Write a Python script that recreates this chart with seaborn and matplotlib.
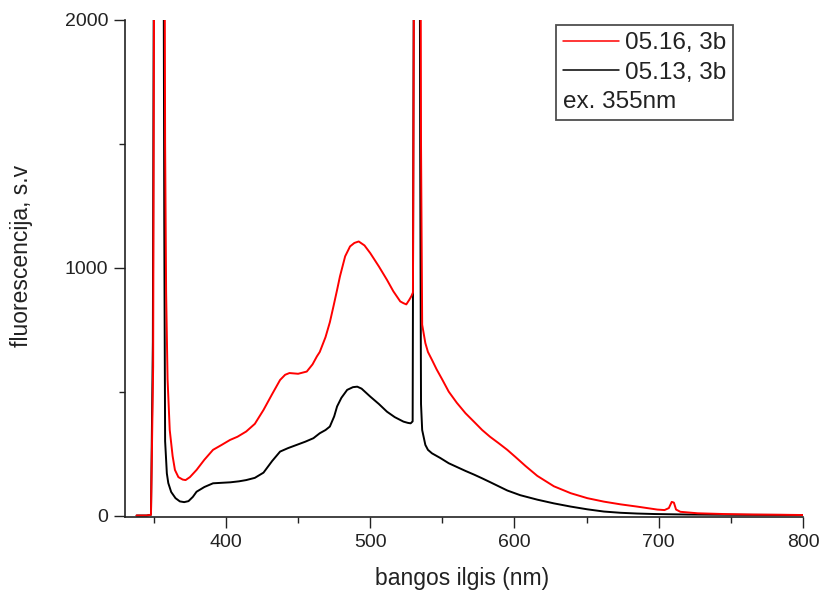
import numpy as np
import pandas as pd
import matplotlib
matplotlib.use("Agg")
import matplotlib.pyplot as plt
import seaborn as sns
from matplotlib.lines import Line2D
from matplotlib.ticker import MultipleLocator

# values
wl_red = [338, 345, 348, 349.5, 350.5, 352, 354, 356, 357.2, 357.8, 358.5, 359.5, 361, 363, 364.6,
          367, 370, 372, 375, 379.6, 385, 391, 397, 402.8, 408, 414, 420, 426, 432, 437.5, 441, 444,
          450, 456, 460, 463, 465, 469, 472, 474.5, 477, 479, 482.6, 486, 489, 492, 496, 500, 506,
          511.6, 516, 520.8, 523, 525, 527, 528.5, 529.6, 530.5, 532, 534, 535.2, 536, 538.2, 540,
          542.8, 546, 549.8, 554.4, 560, 566, 572, 577.6, 583, 589, 595, 600.7, 607.6, 615.8, 627.3,
          639, 650.5, 662, 673.6, 685, 692, 699, 704, 707, 709, 710.5, 712, 715, 727, 745, 765, 785, 800]
fl_red = [0, 0, 3, 600, 3000, 8000, 9000, 6000, 3000, 1500, 900, 550, 345, 240, 184,
          155, 145, 143, 155, 184, 225, 265, 285, 305, 318, 339, 370, 426, 490, 547, 568, 575,
          572, 581, 610, 642, 660, 720, 780, 844, 910, 965, 1046, 1086, 1100, 1106, 1090, 1059, 1005,
          951, 905, 864, 857, 852, 870, 885, 900, 2500, 6000, 5000, 1500, 770, 696, 660,
          628, 590, 550, 500, 455, 413, 378, 345, 318, 292, 265, 236, 200, 160, 118,
          90, 70, 56, 45, 36, 30, 24, 22, 30, 55, 52, 24, 15, 9, 6, 4, 3, 2]

wl_black = [338, 345, 348, 349.3, 350.3, 352, 354, 356, 356.5, 357.2, 357.8, 359, 360, 362, 365,
            368, 371, 374, 377, 379.6, 385, 391, 397, 403, 409, 414, 420, 426, 432, 437.5, 443,
            449, 455, 460.6, 465, 469, 472, 475, 477, 480, 484, 488, 491, 494, 500, 506, 511.6,
            517, 523, 526, 528, 529.4, 530.3, 532, 533.5, 534.6, 535.2, 536, 538.2, 540, 542.8,
            548.6, 554.4, 560, 566, 572, 577.6, 583, 589, 595, 604, 615.8, 627.3, 639, 650.5,
            662, 673.6, 685, 697, 720, 750, 800]
fl_black = [0, 0, 3, 700, 3000, 8000, 9000, 5000, 3000, 1200, 300, 170, 131, 95, 70,
            57, 54, 58, 75, 96, 115, 130, 132, 134, 138, 143, 152, 173, 220, 258, 272,
            285, 298, 312, 332, 345, 359, 400, 440, 475, 507, 518, 520, 512, 480, 450, 419,
            397, 379, 374, 372, 380, 2500, 7000, 5000, 1500, 450, 345, 285, 265, 251,
            232, 211, 196, 180, 165, 150, 135, 118, 101, 82, 64, 49, 36, 25,
            16, 11, 8, 6, 4, 3, 2]

label_red = "05.16, 3b"
label_black = "05.13, 3b"
note = "ex. 355nm"

sns.set_style("ticks")
plt.rcParams['font.family'] = ['Liberation Sans', 'DejaVu Sans']

fig = plt.figure(figsize=(8.23, 5.97), dpi=100)
ax = fig.add_axes([0.1519, 0.134, 0.8238, 0.8326])

df_black = pd.DataFrame({"wl": wl_black, "fl": fl_black})
df_red = pd.DataFrame({"wl": wl_red, "fl": fl_red})
sns.lineplot(data=df_black, x="wl", y="fl", color="black", lw=1.4, ax=ax)
sns.lineplot(data=df_red, x="wl", y="fl", color="#ff0000", lw=1.4, ax=ax)

ax.set_xlim(330, 800)
ax.set_ylim(-6, 2000)
ax.xaxis.set_major_locator(MultipleLocator(100))
ax.xaxis.set_minor_locator(MultipleLocator(50))
ax.yaxis.set_major_locator(MultipleLocator(1000))
ax.yaxis.set_minor_locator(MultipleLocator(500))
ax.set_xticks([400, 500, 600, 700, 800])

for side in ["top", "right"]:
    ax.spines[side].set_visible(False)
for side in ["left", "bottom"]:
    ax.spines[side].set_linewidth(1.2)
    ax.spines[side].set_color("#222222")

ax.tick_params(which="major", length=8, width=1, color="#222222", labelsize=14,
               labelcolor="#222222", pad=4)
ax.tick_params(which="minor", length=4, width=1, color="#222222")

ax.set_xlabel("bangos ilgis (nm)", fontsize=16.5, color="#222222")
ax.set_ylabel("fluorescencija, s.v", fontsize=16.5, color="#222222")
ax.xaxis.set_label_coords(0.497, -0.1)
ax.yaxis.set_label_coords(-0.136, 0.525)

handles = [Line2D([], [], color="#ff0000", lw=1.1),
           Line2D([], [], color="black", lw=1.1),
           Line2D([], [], color="none")]
leg = ax.legend(handles, [label_red, label_black, note], loc="upper left",
                bbox_to_anchor=(0.635, 0.99), fontsize=17.5, frameon=True, fancybox=False,
                handlelength=2.3, handletextpad=0.25, labelspacing=0.3, borderpad=0.3,
                borderaxespad=0)
leg.get_frame().set_edgecolor("#222222")
leg.get_frame().set_linewidth(1.3)
for t in leg.get_texts():
    t.set_color("#222222")

# the note row has no line in front of it
col = leg._legend_handle_box.get_children()[0]
row = col.get_children()[2]
row.get_children().pop(0)

fig.savefig("out.png", dpi=100)
